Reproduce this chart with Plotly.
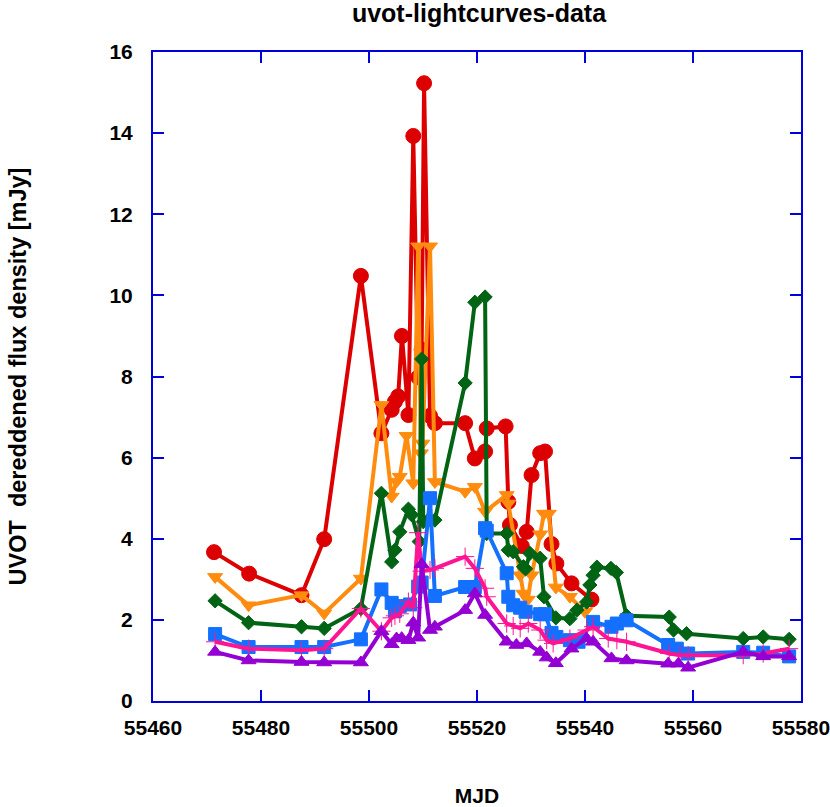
import plotly.graph_objects as go

# UVOT light curves
red_mjd = [55471.3, 55477.8, 55487.5, 55491.7, 55498.5, 55502.3, 55504.2, 55504.8, 55505.4, 55506.1,
           55507.3, 55508.2, 55509.1, 55509.75, 55510.2, 55511.3, 55512.2, 55517.8, 55519.6, 55521.5,
           55521.8, 55525.3, 55525.8, 55526.1, 55528.3, 55529.2, 55530.1, 55531.7, 55532.6, 55533.8,
           55534.7, 55537.5, 55541.2]
red_flux = [3.67, 3.14, 2.61, 3.99, 10.48, 6.60, 7.18, 7.38, 7.51, 9.0,
            7.05, 13.93, 7.98, 8.66, 15.23, 7.03, 6.85, 6.85, 5.98, 6.15,
            6.72, 6.77, 4.91, 4.34, 3.82, 4.17, 5.57, 6.11, 6.15, 3.87,
            3.39, 2.90, 2.50]

orange_mjd = [55471.5, 55477.7, 55487.5, 55491.7, 55498.5, 55502.3, 55504.2, 55505.1, 55505.7, 55506.95,
              55508.2, 55509.1, 55509.6, 55509.9, 55511.3, 55512.2, 55517.8, 55519.6, 55521.5, 55525.5,
              55525.8, 55528.0, 55528.6, 55529.4, 55530.1, 55531.7, 55532.4, 55533.3, 55534.6, 55537.2,
              55540.0]
orange_flux = [3.06, 2.36, 2.61, 2.16, 3.02, 7.30, 5.04, 5.41, 5.53, 6.54,
               5.37, 11.21, 6.11, 6.35, 11.21, 5.40, 5.16, 5.28, 4.67, 5.08,
               4.87, 3.10, 2.65, 2.50, 3.10, 4.11, 4.62, 4.62, 2.80, 2.57,
               2.20]

green_mjd = [55471.5, 55477.7, 55487.5, 55491.7, 55498.5, 55502.3, 55504.2, 55504.8, 55505.7, 55507.3,
             55507.9, 55509.3, 55509.75, 55510.05, 55511.0, 55512.2, 55517.8, 55519.6, 55521.5, 55521.8,
             55525.5, 55525.8, 55526.7, 55528.6, 55529.0, 55529.8, 55531.7, 55532.4, 55534.6, 55537.2,
             55538.5, 55540.3, 55540.9, 55541.5, 55542.2, 55544.8, 55545.8, 55547.7, 55555.6, 55556.4,
             55558.8, 55569.3, 55573.0, 55577.8]
green_flux = [2.47, 1.93, 1.83, 1.79, 2.28, 5.12, 3.43, 3.72, 4.17, 4.73,
              4.59, 3.93, 8.43, 4.42, 4.46, 4.46, 7.84, 9.83, 9.96, 4.13,
              4.13, 3.72, 3.68, 3.31, 3.26, 3.64, 3.52, 2.57, 2.05, 2.03,
              2.24, 2.44, 2.86, 3.10, 3.30, 3.27, 3.17, 2.10, 2.07, 1.75,
              1.66, 1.54, 1.58, 1.52]

blue_mjd = [55471.5, 55477.7, 55487.5, 55491.7, 55498.5, 55502.3, 55504.2, 55504.8, 55505.7, 55507.6,
            55509.1, 55509.75, 55511.3, 55512.2, 55517.8, 55519.6, 55521.5, 55521.8, 55525.5, 55525.8,
            55526.7, 55528.0, 55529.0, 55531.7, 55532.6, 55533.8, 55534.7, 55537.2, 55538.8, 55541.5,
            55544.9, 55545.9, 55547.7, 55555.4, 55557.0, 55559.1, 55569.3, 55573.0, 55577.8]
blue_flux = [1.65, 1.33, 1.33, 1.33, 1.52, 2.75, 2.42, 2.22, 2.34, 2.38,
             2.82, 2.92, 5.0, 2.59, 2.81, 2.81, 4.26, 4.20, 3.15, 2.57,
             2.36, 2.30, 2.20, 2.14, 2.14, 1.68, 1.58, 1.50, 1.46, 1.95,
             1.83, 1.91, 1.99, 1.38, 1.29, 1.17, 1.21, 1.19, 1.10]

pink_mjd = [55471.5, 55477.7, 55487.5, 55491.7, 55498.5, 55502.3, 55504.2, 55504.8, 55505.7, 55507.3,
            55508.2, 55509.1, 55509.75, 55511.3, 55512.2, 55517.8, 55519.6, 55521.5, 55521.8, 55525.5,
            55526.7, 55528.0, 55529.5, 55531.7, 55532.9, 55534.1, 55537.2, 55540.3, 55541.5, 55544.3,
            55545.9, 55547.7, 55555.6, 55557.6, 55559.1, 55569.3, 55573.0, 55577.8]
pink_flux = [1.46, 1.29, 1.25, 1.29, 2.28, 1.72, 2.05, 2.10, 2.15, 2.45,
             2.30, 4.15, 3.20, 3.23, 3.27, 3.56, 3.27, 2.78, 2.57, 1.91,
             1.85, 1.79, 1.91, 1.75, 1.50, 1.42, 1.54, 1.75, 1.83, 1.54,
             1.50, 1.46, 1.17, 1.13, 1.13, 1.13, 1.17, 1.29]

purple_mjd = [55471.5, 55477.7, 55487.5, 55491.7, 55498.5, 55502.3, 55504.2, 55505.1, 55506.05, 55507.3,
              55508.2, 55509.1, 55509.75, 55511.3, 55512.2, 55517.8, 55519.6, 55521.5, 55525.5, 55527.3,
              55529.2, 55531.7, 55532.9, 55534.6, 55537.5, 55540.3, 55541.5, 55544.9, 55547.7, 55555.4,
              55557.3, 55559.1, 55569.3, 55573.0, 55577.8]
purple_flux = [1.21, 1.00, 0.96, 0.95, 0.95, 1.72, 1.40, 1.54, 1.55, 1.50,
               1.93, 1.56, 3.37, 1.75, 1.83, 2.24, 2.65, 2.12, 1.46, 1.38,
               1.42, 1.21, 1.07, 0.93, 1.29, 1.54, 1.46, 1.05, 1.00, 0.92,
               0.92, 0.82, 1.21, 1.10, 1.10]

x_ticks = [55460, 55480, 55500, 55520, 55540, 55560, 55580]
y_ticks = [0, 2, 4, 6, 8, 10, 12, 14, 16]

series = [
    (red_mjd, red_flux, '#dd0000', 'circle', 15),
    (orange_mjd, orange_flux, '#ff8c0f', 'triangle-down', 13),
    (green_mjd, green_flux, '#006414', 'diamond', 11),
    (blue_mjd, blue_flux, '#1470ff', 'square', 13),
    (pink_mjd, pink_flux, '#ff1493', 'cross-thin', 13),
    (purple_mjd, purple_flux, '#9400d3', 'triangle-up', 13),
]

fig = go.Figure()
for x, y, col, sym, sz in series:
    fig.add_trace(go.Scatter(
        x=x, y=y, mode='lines+markers',
        line=dict(color=col, width=4),
        marker=dict(symbol=sym, size=sz, color=col, line=dict(color=col, width=1)),
        showlegend=False,
    ))

axis_col = '#0000dd'
fnt = dict(family='Liberation Sans, Arial, sans-serif', color='black', weight='bold')

fig.update_layout(
    width=830, height=807,
    margin=dict(l=153, r=29, t=52, b=106),
    plot_bgcolor='white', paper_bgcolor='white',
    title=dict(text='uvot-lightcurves-data', x=479/830, xanchor='center',
               y=1 - 13/807, yanchor='middle', font=dict(size=25, **fnt)),
)
fig.update_xaxes(
    range=[55460, 55580], tickmode='array', tickvals=x_ticks,
    ticktext=[str(v) for v in x_ticks], ticklabeloverflow='allow',
    showgrid=False, zeroline=False, automargin=False,
    showline=True, linecolor=axis_col, linewidth=2, mirror='ticks',
    ticks='inside', ticklen=11, tickwidth=2, tickcolor=axis_col,
    tickfont=dict(size=21, **fnt), ticklabelstandoff=7,
    title=dict(text='MJD', font=dict(size=21, **fnt), standoff=62),
)
fig.update_yaxes(
    range=[0, 16], tickmode='array', tickvals=y_ticks,
    showgrid=False, zeroline=False, automargin=False,
    showline=True, linecolor=axis_col, linewidth=2, mirror='ticks',
    ticks='inside', ticklen=11, tickwidth=2, tickcolor=axis_col,
    tickfont=dict(size=21, **fnt), ticklabelstandoff=14,
    title=dict(text='UVOT  dereddened flux density [mJy]', font=dict(size=23.5, **fnt), standoff=76),
)

# drop the default 8px body margin so the figure fills the window
fig.write_html("out.html", config={'displayModeBar': False},
               post_script="document.body.style.margin='0';")
